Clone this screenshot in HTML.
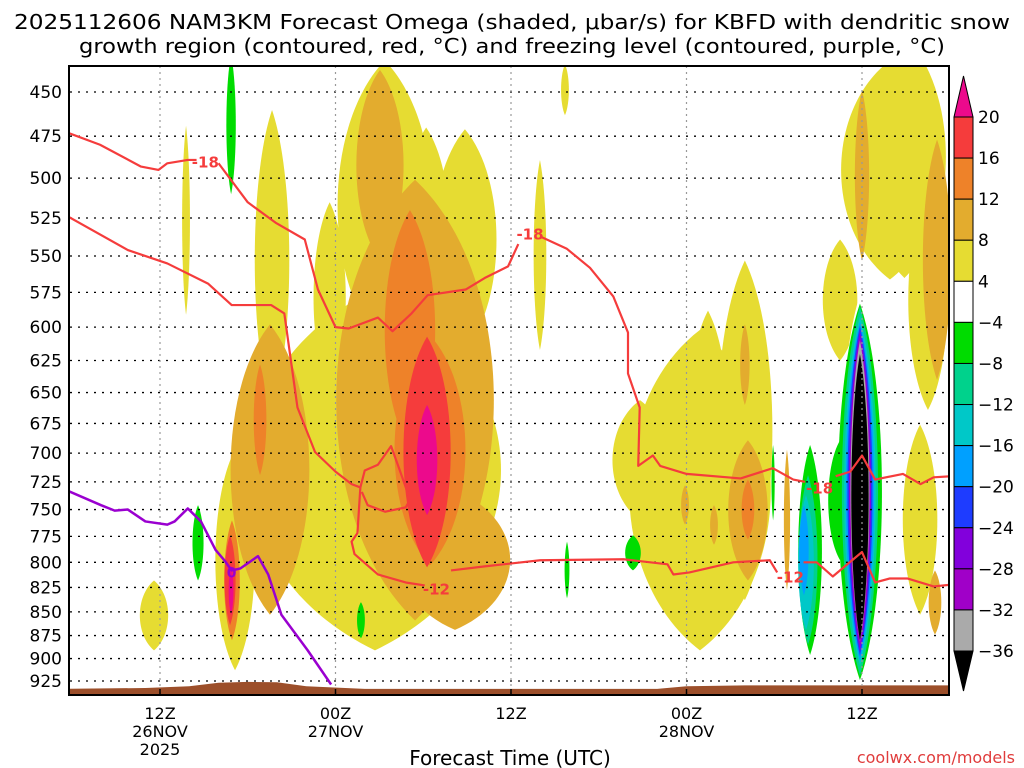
<!DOCTYPE html>
<html><head><meta charset="utf-8"><style>
html,body{margin:0;padding:0;background:#fff;}
svg{display:block;font-family:"DejaVu Sans","Liberation Sans",sans-serif;}
</style></head><body>
<svg id="chart" width="1024" height="768" viewBox="0 0 1024 768" xmlns="http://www.w3.org/2000/svg">
<rect width="1024" height="768" fill="#fff"/>
<text x="512" y="29" text-anchor="middle" font-size="20" textLength="996" lengthAdjust="spacingAndGlyphs">2025112606 NAM3KM Forecast Omega (shaded, μbar/s) for KBFD with dendritic snow</text>
<text x="512" y="53" text-anchor="middle" font-size="20" textLength="866" lengthAdjust="spacingAndGlyphs">growth region (contoured, red, °C) and freezing level (contoured, purple, °C)</text>
<defs><clipPath id="plotclip"><rect x="70" y="66" width="879" height="629"/></clipPath></defs>
<g id="plot" clip-path="url(#plotclip)"></g>
<g id="axes"></g>
<g id="cbar"></g>
<text x="510" y="765" text-anchor="middle" font-size="20">Forecast Time (UTC)</text>
<text x="1015" y="763" text-anchor="end" font-size="16" fill="#e03c3c">coolwx.com/models</text>
</svg>
<script>
// ---- data (hours since 06Z 26 Nov, pressure in hPa, omega in microbar/s) ----
const blobHour = [20.70,21.37,26.85,13.66,31.98,7.78,5.59,11.13,33.69,55.91,58.51,52.50,42.92,45.99,43.47,57.97,38.82,56.9,17.6,24.2,
  54.55,48.39,
  23.44,21.04,13.52,26.17,54.00,59.13,46.20,45.99,43.88,41.90,58.99,48.87,
  23.09,24.46,12.84,10.92,46.20,
  24.26,10.79,
  24.26,10.86,
  10.86,8.60,19.74,33.83,38.34,47.92,50.45,53.86,52.50,
  50.31,53.86,50.17,53.86,50.03,53.86,53.86,53.86,53.86,53.86,53.86];
const blobTopPres = [573,433,471,460,489,469,818,697,435,433,507,539,602,553,588,676,656,420,515,470,
  559,648,
  501,438,598,732,449,477,689,598,746,728,808,697,
  520,606,628,760,723,
  607,774,
  660,803,
  430,746,840,780,774,693,693,583,689,
  719,585,737,592,746,596,599,603,607,610,620];
const blobBottomPres = [891,617,617,664,617,591,891,913,463,566,664,625,891,838,769,853,760,565,650,600,
  808,891,
  859,553,853,869,553,640,818,660,783,764,874,828,
  697,803,719,880,778,
  805,864,
  755,853,
  510,818,878,836,808,760,896,924,798,
  885,919,869,908,833,903,897,892,886,881,880];
const blobHalfHours = [10.94,4.10,2.74,1.50,0.55,0.34,1.23,1.71,0.34,4.24,1.71,1.50,6.15,2.39,1.71,1.50,2.39,3.6,1.4,2.0,
  2.26,0.68,
  6.84,2.05,3.42,4.79,0.62,1.23,1.71,0.41,0.34,0.34,0.55,0.27,
  2.19,3.08,0.55,0.68,0.55,
  2.05,0.48,
  0.89,0.21,
  0.41,0.48,0.34,0.21,0.68,0.14,1.03,1.91,1.03,
  0.82,1.57,0.68,1.37,0.41,1.23,1.09,0.96,0.89,0.82,0.75];
const blobOmega = [4,4,4,4,4,4,4,4,4,4,4,4,4,4,4,4,4,4,4,4,
  0,0,
  8,8,8,8,8,8,8,8,8,8,8,8,
  12,12,12,12,12,
  16,16,
  20,20,
  -4,-4,-4,-4,-4,-4,-4,-4,-4,
  -8,-8,-12,-12,-16,-16,-20,-24,-28,-32,-36];

// isotherm segments (hours, hPa)
const iso18aHour=[-0.3,1.9,4.7,5.9,6.5,7.9,8.5];
const iso18aPres=[473,480,493,495,491,489,489];
const iso18bHour=[10.0,12.0,13.9,15.9,16.8,18.0,18.9,20.9,21.9,23.2,24.3,26.9,28.2,29.8,30.5];
const iso18bPres=[491,515,528,539,573,600,601,593,603,590,577,573,565,557,542];
const iso18cHour=[32.0,33.8,35.4,37.0,38.0,38.0,38.8,38.7,39.7,40.2,42.0,45.7,47.9,49.3,50.1];
const iso18cPres=[537,545,558,578,604,635,662,711,702,711,718,722,713,723,725];
const iso18dHour=[52.2,53.2,54.0,54.9,56.8,58.0,58.9,60.2];
const iso18dPres=[720,716,702,723,718,727,721,720];
const iso12aHour=[-0.3,3.8,6.5,9.3,10.9,13.6,14.5,15.4,16.6,18.0,19.1,19.7,19.5,19.1,19.3,20.9,22.8,24.1];
const iso12aPres=[524,546,555,569,584,584,590,662,699,716,727,730,772,780,792,812,820,823];
const iso12bHour=[25.9,28.2,32.0,37.7,40.7,41.1,42.2,45.2,47.7,48.2];
const iso12bPres=[808,804,798,797,802,812,810,800,798,810];
const iso12cHour=[50.0,50.9,52.0,54.0,54.9,55.9,57.1,58.9,60.2];
const iso12cPres=[800,800,814,790,820,816,816,824,822];
const isoLoopHour=[19.7,20.0,20.9,21.8,22.4,23.1,22.8,21.4,20.2,19.8];
const isoLoopPres=[730,715,710,694,715,741,748,752,746,734];
const frzHour=[-0.3,1.97,2.9,3.8,5.0,6.5,7.0,7.9,8.8,9.8,10.4,10.9,11.5,12.7,13.4,14.3,16.1,17.7];
const frzPres=[733,746,751,750,761,764,761,749,761,788,798,808,806,794,812,853,891,929];
const isoLabelText=["-18","-18","-18","-12","-12"];
const isoLabelHour=[9.1,31.3,51.1,24.9,49.1];
const isoLabelPres=[490,535,730,826,814];
const terrainHour=[-1,5,8,10,12,14,16,20,30,40,42,46,50,55,61];
const terrainPres=[934,933,931,927,926,926.5,931,934,934,934,931,930,930,930,930];
const pressureTicks=[450,475,500,525,550,575,600,625,650,675,700,725,750,775,800,825,850,875,900,925];
const timeTickHour=[6,18,30,42,54];
const timeTickLine1=["12Z","00Z","12Z","00Z","12Z"];
const timeTickLine2=["26NOV","27NOV","","28NOV",""];
const timeTickLine3=["2025","","","",""];
const cbarLevels=[20,16,12,8,4,-4,-8,-12,-16,-20,-24,-28,-32,-36];

// ---- scales ----
function x(h){return 72.25+14.625*h;}
function y(p){return 92+817.4*Math.log(p/450);}
function colorFor(v){
  if(v>=20) return "#ec0a8c"; if(v>=16) return "#f53c3c"; if(v>=12) return "#ee8229";
  if(v>=8) return "#e3ac2e"; if(v>=4) return "#e6dc32"; if(v>-4) return "#ffffff";
  if(v>-8) return "#00dc00"; if(v>-12) return "#00d28c"; if(v>-16) return "#00c8c8";
  if(v>-20) return "#00a0ff"; if(v>-24) return "#1e3cff"; if(v>-28) return "#8200dc";
  if(v>-32) return "#a000c8"; if(v>-36) return "#aaaaaa"; return "#000000";
}
const NS="http://www.w3.org/2000/svg";
function mk(tag,attrs,parent){const e=document.createElementNS(NS,tag);for(const k in attrs)e.setAttribute(k,attrs[k]);parent.appendChild(e);return e;}
const plot=document.getElementById('plot'), axes=document.getElementById('axes'), cbar=document.getElementById('cbar');

// shaded omega blobs
for(let i=0;i<blobHour.length;i++){
  const cx=x(blobHour[i]);
  const yt=y(blobTopPres[i]), yb=y(blobBottomPres[i]);
  const cy=(yt+yb)/2, ry=(yb-yt)/2;
  const rx=blobHalfHours[i]*14.625;
  const d="M"+cx+","+(cy-ry)+" C"+(cx+rx*1.05)+","+(cy-ry*0.55)+" "+(cx+rx*1.05)+","+(cy+ry*0.55)+" "+cx+","+(cy+ry)+
          " C"+(cx-rx*1.05)+","+(cy+ry*0.55)+" "+(cx-rx*1.05)+","+(cy-ry*0.55)+" "+cx+","+(cy-ry)+"Z";
  const e=mk('path',{d:d,fill:colorFor(blobOmega[i])},plot);
  
  
}
// terrain
{
  let d="M"+x(terrainHour[0])+","+y(960);
  for(let i=0;i<terrainHour.length;i++) d+=" L"+x(terrainHour[i])+","+y(terrainPres[i]);
  d+=" L"+x(terrainHour[terrainHour.length-1])+","+y(960)+"Z";
  const t=mk('path',{d:d,fill:"#9c4f2a"},plot);
  
  
}
// grid
for(const p of pressureTicks){
  const g=mk('line',{x1:70,x2:949,y1:y(p),y2:y(p),stroke:"#000","stroke-width":1.3,"stroke-dasharray":"2,6"},plot);
  
  
}
for(const h of timeTickHour){
  const g=mk('line',{x1:x(h),x2:x(h),y1:66,y2:695,stroke:"#999","stroke-width":1.2,"stroke-dasharray":"2,4"},plot);
  
  
}
// lines
function poly(hs,ps,color,name,w){
  const pts=hs.map((h,i)=>x(h)+","+y(ps[i])).join(" ");
  const e=mk('polyline',{points:pts,fill:"none",stroke:color,"stroke-width":w,"stroke-linejoin":"round"},plot);
  
  
}
poly(iso18aHour,iso18aPres,"#f53c3c","isotherm-minus18",2.2);
poly(iso18bHour,iso18bPres,"#f53c3c","isotherm-minus18",2.2);
poly(iso18cHour,iso18cPres,"#f53c3c","isotherm-minus18",2.2);
poly(iso18dHour,iso18dPres,"#f53c3c","isotherm-minus18",2.2);
poly(iso12aHour,iso12aPres,"#f53c3c","isotherm-minus12",2.2);
poly(iso12bHour,iso12bPres,"#f53c3c","isotherm-minus12",2.2);
poly(iso12cHour,iso12cPres,"#f53c3c","isotherm-minus12",2.2);
poly(isoLoopHour,isoLoopPres,"#f53c3c","isotherm-loop",2.2);
poly(frzHour,frzPres,"#9a00d0","freezing-level",2.5);
for(let i=0;i<isoLabelText.length;i++){
  const t=mk('text',{x:x(isoLabelHour[i]),y:y(isoLabelPres[i])+6,"text-anchor":"middle","font-size":15,"font-weight":"bold",fill:"#f53c3c"},plot);
  t.textContent=isoLabelText[i];
  
  
}
{
  const c=mk('text',{x:x(10.9),y:y(810)+5,"text-anchor":"middle","font-size":14,"font-weight":"bold",fill:"#9a00d0"},plot);
  c.textContent="0";
  
  
}
// frame & axes
{
  const f=mk('rect',{x:69,y:66,width:880,height:629,fill:"none",stroke:"#000","stroke-width":2},axes);
  
  
}
for(const p of pressureTicks){
  const t=mk('text',{x:62,y:y(p)+6,"text-anchor":"end","font-size":17},axes);
  t.textContent=p;
  
  
}
for(let i=0;i<timeTickHour.length;i++){
  const cx=x(timeTickHour[i]);
  const tk=mk('line',{x1:cx,x2:cx,y1:689,y2:695,stroke:"#000","stroke-width":1.5},axes);
  
  
  [timeTickLine1[i],timeTickLine2[i],timeTickLine3[i]].forEach((s,j)=>{
    if(!s) return;
    const t=mk('text',{x:cx,y:719+j*18,"text-anchor":"middle","font-size":16},axes);
    t.textContent=s;
    
    
  });
}
// colorbar
{
  const top=117, step=(651-117)/13, bx=954, bw=19;
  const tri=mk('polygon',{points:bx+","+top+" "+(bx+bw)+","+top+" "+(bx+bw/2)+",76",fill:colorFor(24),stroke:"#000","stroke-width":1},cbar);
  
  
  for(let i=0;i<cbarLevels.length-1;i++){
    const r=mk('rect',{x:bx,y:top+i*step,width:bw,height:step,fill:colorFor((cbarLevels[i]+cbarLevels[i+1])/2),stroke:"#000","stroke-width":1},cbar);
    
    
  }
  const tri2=mk('polygon',{points:bx+",651 "+(bx+bw)+",651 "+(bx+bw/2)+",691",fill:"#000",stroke:"#000","stroke-width":1},cbar);
  
  
  for(let i=0;i<cbarLevels.length;i++){
    const v=cbarLevels[i];
    const t=mk('text',{x:978,y:top+i*step+6,"font-size":17},cbar);
    t.textContent=v<0?("\u2212"+(-v)):String(v);
    
    
  }
}
</script>
</body></html>
